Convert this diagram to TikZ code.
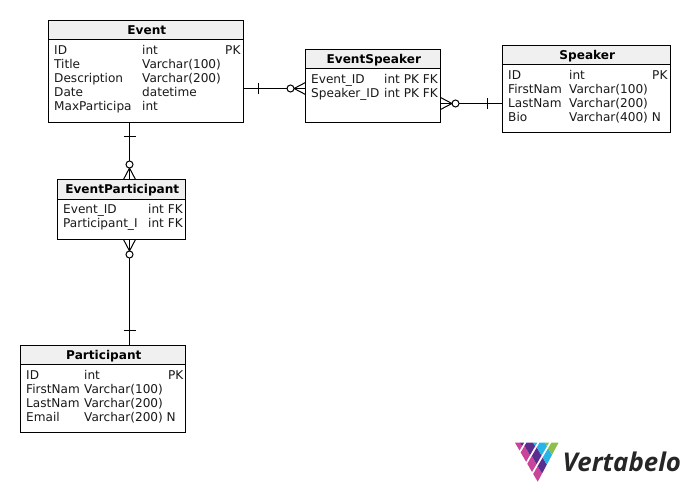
\documentclass[tikz,border=0pt]{standalone}
\usepackage{fontspec}
\usetikzlibrary{calc}
\setmainfont{DejaVu Sans}
\newfontfamily\logofont{Open Sans}
\definecolor{headfill}{HTML}{F0F0F0}
\definecolor{lg}{HTML}{8CC04A}
\definecolor{lb}{HTML}{27B5E8}
\definecolor{lp}{HTML}{5B2D8E}
\definecolor{lm}{HTML}{C9459A}
\definecolor{lt}{HTML}{262626}
\tikzset{
 x=1pt,y=-1pt,
 tablebox/.style={draw=black,line width=1pt,fill=white,anchor=north west,inner sep=0pt,outer sep=0pt},
 headbox/.style={draw=black,line width=1pt,fill=headfill,anchor=north west,inner sep=0pt,outer sep=0pt},
 title/.style={font=\fontsize{12.1}{14}\selectfont\bfseries,inner sep=0pt,anchor=base},
 cell/.style={font=\fontsize{12.1}{14}\selectfont,anchor=base west,inner sep=0pt,text=black!90},
 conn/.style={draw=black,line width=1pt},
 crow/.style={circle,draw=black,line width=1pt,fill=white,minimum size=7pt,inner sep=0pt,outer sep=0pt},
}
\newcommand{\tbl}[7]{% name x y w hh h title
 \node[tablebox,minimum width=#4pt,minimum height=#6pt] (#1) at (#2,#3) {};
 \node[headbox,minimum width=#4pt,minimum height=#5pt] (#1h) at (#2,#3) {};
 \node[title] (#1t) at ($(#1h.north)+(0.8,13.9)$) {#7};
}
\newcommand{\rowcells}[6]{% name y x1 t1 x2 t2
 \node[cell] (#1a) at (#3,#2) {#4};
 \node[cell] (#1b) at (#5,#2) {#6};
}
\newcommand{\tickH}[1]{\draw[conn] ($(#1)+(0,-5.5)$) -- ($(#1)+(0,5.5)$);}
\newcommand{\tickV}[1]{\draw[conn] ($(#1)+(-6,0)$) -- ($(#1)+(6,0)$);}
\newcommand{\logocell}[5]{% s0 s1 t0 t1 colour
 \fill[#5] ($(515,442.7)+#1*(22.7,39)+#3*(22.7,-39)$) -- ($(515,442.7)+#2*(22.7,39)+#3*(22.7,-39)$) -- ($(515,442.7)+#2*(22.7,39)+#4*(22.7,-39)$) -- ($(515,442.7)+#1*(22.7,39)+#4*(22.7,-39)$) -- cycle;
}
\begin{document}
\begin{tikzpicture}
\useasboundingbox (0,0) rectangle (690,492);
% Event
\tbl{event}{48.5}{20.5}{195}{19}{102}{Event}
\rowcells{ev1}{54.5}{54}{ID}{142}{int}
\node[cell] (ev1c) at (225,54.5) {PK};
\rowcells{ev2}{68.5}{54}{Title}{142}{Varchar(100)}
\rowcells{ev3}{82.5}{54}{Description}{142}{Varchar(200)}
\rowcells{ev4}{96.5}{54}{Date}{142}{datetime}
\rowcells{ev5}{110.5}{54}{MaxParticipa}{142}{int}
% EventSpeaker
\tbl{es}{305.5}{49.5}{135}{19}{73}{EventSpeaker}
\rowcells{es1}{83.5}{311}{Event\_ID}{384}{int PK FK}
\rowcells{es2}{97.5}{311}{Speaker\_ID}{384}{int PK FK}
% Speaker
\tbl{sp}{502.5}{45.5}{168}{19}{87}{Speaker}
\rowcells{sp1}{79.5}{508}{ID}{569}{int}
\node[cell] (sp1c) at (652,79.5) {PK};
\rowcells{sp2}{93.5}{508}{FirstNam}{569}{Varchar(100)}
\rowcells{sp3}{107.5}{508}{LastNam}{569}{Varchar(200)}
\rowcells{sp4}{121.5}{508}{Bio}{569}{Varchar(400) N}
% EventParticipant
\tbl{ep}{57.5}{179.5}{128}{19.5}{60}{EventParticipant}
\rowcells{ep1}{213.5}{63}{Event\_ID}{148}{int FK}
\rowcells{ep2}{227.5}{63}{Participant\_I}{148}{int FK}
% Participant
\tbl{pa}{20.5}{345.5}{165}{19}{87}{Participant}
\rowcells{pa1}{379.5}{26}{ID}{84}{int}
\node[cell] (pa1c) at (168,379.5) {PK};
\rowcells{pa2}{393.5}{26}{FirstNam}{84}{Varchar(100)}
\rowcells{pa3}{407.5}{26}{LastNam}{84}{Varchar(200)}
\rowcells{pa4}{421.5}{26}{Email}{84}{Varchar(200) N}
% Connector Event - EventSpeaker
\node[crow] (c1) at (290.5,88.5) {};
\coordinate (t1) at (258.5,88.5);
\draw[conn] (event.east |- c1) -- (c1.west);
\tickH{t1}
\draw[conn] (c1.east) -- ($(es.west |- c1)+(0,-6)$);
\draw[conn] (c1.east) -- ($(es.west |- c1)+(0,6)$);
\draw[conn] (c1.east) -- (es.west |- c1);
% Connector EventSpeaker - Speaker
\node[crow] (c2) at (455.5,103.5) {};
\coordinate (t2) at (487.5,103.5);
\draw[conn] (c2.east) -- (sp.west |- c2);
\tickH{t2}
\draw[conn] (c2.west) -- ($(es.east |- c2)+(0,-6)$);
\draw[conn] (c2.west) -- ($(es.east |- c2)+(0,6)$);
\draw[conn] (c2.west) -- (es.east |- c2);
% Connector Event - EventParticipant
\node[crow] (c3) at (129.5,164.5) {};
\coordinate (t3) at (129.5,136.5);
\draw[conn] (c3 |- event.south) -- (c3.north);
\tickV{t3}
\draw[conn] (c3.south) -- ($(c3 |- ep.north)+(-6,0)$);
\draw[conn] (c3.south) -- ($(c3 |- ep.north)+(6,0)$);
\draw[conn] (c3.south) -- (c3 |- ep.north);
% Connector EventParticipant - Participant
\node[crow] (c4) at (129.5,254.5) {};
\coordinate (t4) at (129.5,330.5);
\draw[conn] (c4.south) -- (c4 |- pa.north);
\tickV{t4}
\draw[conn] (c4.north) -- ($(c4 |- ep.south)+(-6,0)$);
\draw[conn] (c4.north) -- ($(c4 |- ep.south)+(6,0)$);
\draw[conn] (c4.north) -- (c4 |- ep.south);
% Logo
\begin{scope}
\clip (515,442.7) -- (558.5,442.7) -- (537.7,481.7) -- cycle;
\logocell{0}{.2}{0}{.11}{lm}
\logocell{0}{.2}{.11}{.4}{lp}
\logocell{.25}{.49}{0}{.17}{lm}
\logocell{.25}{.49}{.17}{.4}{lp}
\logocell{.25}{.49}{.4}{.7}{lb}
\logocell{.54}{.75}{0}{.2}{lm}
\logocell{.54}{.75}{.2}{.42}{lp}
\logocell{.54}{.75}{.42}{.66}{lb}
\logocell{.54}{.75}{.66}{1}{lg}
\logocell{.8}{1.1}{0}{.2}{lm}
\logocell{.8}{1.1}{.2}{.42}{lp}
\logocell{.8}{1.1}{.42}{.66}{lb}
\logocell{.8}{1.1}{.66}{1}{lg}
\end{scope}
\node[anchor=base west,inner sep=0pt,text=lt,font=\logofont\fontsize{25.8}{30}\selectfont\bfseries\itshape] (logotext) at (562.5,471.7) {Vertabelo};
\end{tikzpicture}
\end{document}
